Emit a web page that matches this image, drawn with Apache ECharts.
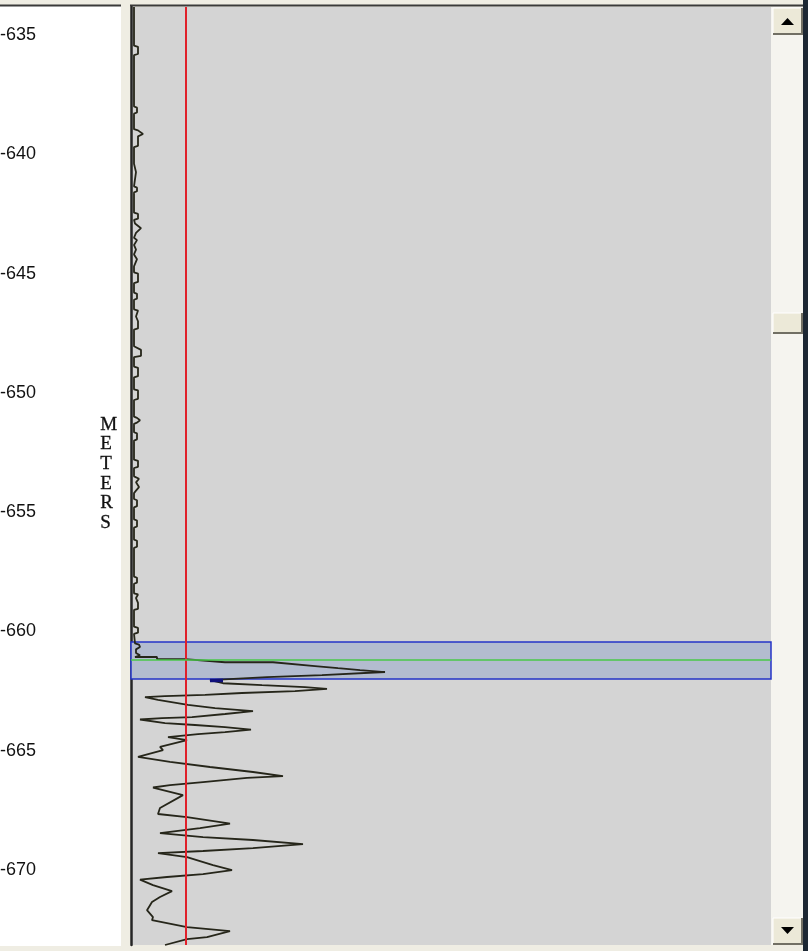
<!DOCTYPE html>
<html>
<head>
<meta charset="utf-8">
<script src="https://cdn.jsdelivr.net/npm/echarts@6/dist/echarts.min.js"></script>
<style>
  html, body { margin: 0; padding: 0; background: #efede3; }
  #chart { width: 808px; height: 951px; }
</style>
</head>
<body>
<div id="chart"></div>
<script>
// depth tick labels (meters)
const depthTicks = [-635, -640, -645, -650, -655, -660, -665, -670];

// log trace: value along x, depth along y
const traceValue = [
  0.75, 0.75, 1.25, 0.75, 0.75, 1.75, 1.75, 0.75, 0.75, 1.25, 0.75,
  0.75, 1.5, 1.5, 0.75, 0.75, 1.75, 3, 1.75, 1.75, 0.75,
  0.75, 1.25, 1.25, 0.75, 0.75, 1.5, 1.5, 0.75, 0.75, 1.75, 1.75, 0.75,
  1.0, 2.5, 1.25, 0.75, 1.5, 0.75, 1.25, 0.75, 1.5, 0.75,
  0.75, 1.75, 1.75, 0.75, 0.75, 1.5, 1.5, 0.75,
  0.75, 1.75, 1.25, 1.75, 1.75, 0.75, 0.75, 2.5, 2.5, 0.75,
  0.75, 1.75, 1.75, 0.75, 0.75, 1.75, 1.75, 0.75,
  0.75, 1.5, 2.25, 1.5, 0.75, 0.75, 1.5, 1.5, 0.75,
  0.75, 1.75, 1.75, 0.75, 0.75, 2.0, 1.25, 2.0, 1.25, 0.75,
  0.75, 1.5, 1.5, 0.75, 0.75, 1.5, 1.5, 0.75, 0.75, 1.5, 1.5, 0.75,
  0.75, 1.5, 1.5, 0.75, 0.75, 1.75, 1.25, 1.75, 1.75, 0.75,
  0.75, 1.75, 1.75, 0.75,
  1.0, 2.0, 2.25, 1.25, 1.25, 2.25, 1.0,
  6.5, 6.5, 13.5, 23.5, 35.5, 35.5, 46, 51.75, 57.25, 63.5, 63.5,
  47.75, 34, 19.75, 23, 32.75, 43.5, 49, 41, 27.75, 18.5, 8.5, 3.5,
  6.75, 14.25, 21, 30.5, 30.5, 23.5, 15.25, 7.75, 2.25,
  8.5, 16, 23.5, 30, 23.5, 16.75, 9.25, 14, 7.25, 8, 1.75,
  9.75, 19.75, 30.5, 38, 29, 18, 9.75, 5.5, 13, 7.25, 6.75,
  14, 24, 24.75, 17.25, 7.25, 18, 30.5, 43, 30.5, 18, 6.75,
  14, 20.5, 25.25, 18, 9, 2.25, 5.5, 10.25, 7.25, 5.25, 4, 5.5, 5.25, 5.5,
  14, 24.75, 19, 14, 8.5
];
const traceDepth = [
  -633.83, -634.30, -634.35, -634.45, -635.45, -635.50, -635.80, -635.85, -636.85, -636.90, -637.00,
  -638.00, -638.05, -638.25, -638.30, -638.95, -639.00, -639.15, -639.25, -639.65, -639.70,
  -640.40, -640.45, -640.75, -640.80, -641.35, -641.40, -641.55, -641.60, -642.45, -642.50, -642.70, -642.75,
  -642.90, -643.10, -643.30, -643.50, -643.60, -643.80, -644.00, -644.20, -644.40, -644.70,
  -644.95, -645.00, -645.35, -645.40, -645.80, -645.85, -646.05, -646.10,
  -646.50, -646.55, -646.80, -647.00, -647.30, -647.35, -648.05, -648.20, -648.45, -648.50,
  -648.90, -648.95, -649.30, -649.35, -649.85, -649.90, -650.25, -650.30,
  -651.00, -651.05, -651.15, -651.25, -651.30, -651.65, -651.70, -651.95, -652.00,
  -652.80, -652.85, -653.10, -653.15, -653.50, -653.60, -653.75, -653.95, -654.10, -654.20,
  -654.45, -654.50, -654.75, -654.80, -655.30, -655.35, -655.60, -655.65, -656.15, -656.20, -656.45, -656.50,
  -657.70, -657.75, -657.95, -658.00, -658.40, -658.45, -658.60, -658.80, -659.05, -659.10,
  -659.80, -659.85, -660.05, -660.10,
  -660.50, -660.55, -660.65, -660.75, -660.90, -661.00, -661.07,
  -661.07, -661.16, -661.16, -661.29, -661.29, -661.37, -661.45, -661.54, -661.62, -661.70, -661.74,
  -661.83, -661.91, -662.04, -662.17, -662.25, -662.33, -662.41, -662.50, -662.58, -662.66, -662.71, -662.75,
  -662.87, -663.08, -663.21, -663.34, -663.38, -663.46, -663.59, -663.63, -663.69,
  -663.84, -663.92, -664.01, -664.11, -664.22, -664.30, -664.43, -664.55, -664.84, -664.97, -665.26,
  -665.47, -665.68, -665.89, -666.06, -666.14, -666.31, -666.44, -666.54, -666.86, -667.40, -667.65,
  -667.78, -668.03, -668.05, -668.24, -668.45, -668.62, -668.74, -668.91, -669.08, -669.20, -669.29,
  -669.46, -669.79, -670.00, -670.17, -670.29, -670.40, -670.63, -670.88, -671.13, -671.34, -671.68, -671.97, -672.10, -672.18,
  -672.39, -672.56, -672.81, -672.89, -673.14
];

// highlighted short piece of the trace (drawn dark blue)
const blueValue = [19.75, 23];
const blueDepth = [-662.06, -662.06];

// picks
const zoneTop = -660.44;
const zoneBottom = -661.99;
const pickDepth = -661.20;
const cutoffValue = 13.75;

const depthMin = -673.14;
const depthMax = -633.83;

const chart = echarts.init(document.getElementById('chart'));

const traceData = traceValue.map((v, i) => [v, traceDepth[i]]);
const blueData = blueValue.map((v, i) => [v, blueDepth[i]]);

const option = {
  backgroundColor: '#efede3',
  animation: false,
  grid: {
    left: 131, right: 37, top: 7, bottom: 6,
    outerBoundsMode: 'none',
    containLabel: false,
    show: true, backgroundColor: '#d4d4d4', borderWidth: 0
  },
  xAxis: { type: 'value', min: 0, max: 160, show: false },
  yAxis: {
    type: 'value',
    min: depthMin,
    max: depthMax,
    axisLine: { show: true, lineStyle: { color: '#262626', width: 2.5 } },
    axisTick: { show: false },
    splitLine: { show: false },
    axisLabel: {
      customValues: depthTicks,
      align: 'left',
      margin: 131,
      fontSize: 18,
      fontFamily: 'Liberation Sans',
      color: '#111'
    }
  },
  graphic: [
    { type: 'rect', shape: { x: 0, y: 6, width: 121, height: 940 }, style: { fill: '#ffffff' } },
    { type: 'line', shape: { x1: 0, y1: 5.5, x2: 121, y2: 5.5 }, style: { stroke: '#3a3a3a', lineWidth: 2 } },
    { type: 'line', shape: { x1: 130, y1: 5.5, x2: 803, y2: 5.5 }, style: { stroke: '#3a3a3a', lineWidth: 2 } },
    { type: 'rect', shape: { x: 771, y: 7, width: 32, height: 938 }, style: { fill: '#f5f4ef' } },
    // scroll up button
    { type: 'rect', shape: { x: 773, y: 8, width: 29, height: 26 }, style: { fill: '#ece9d8', stroke: '#ffffff', lineWidth: 1 } },
    { type: 'polyline', shape: { points: [[773, 34], [802, 34], [802, 8]] }, style: { stroke: '#716f64', lineWidth: 2, fill: null } },
    { type: 'polygon', shape: { points: [[781, 25], [794, 25], [787.5, 18]] }, style: { fill: '#000' } },
    // thumb
    { type: 'rect', shape: { x: 773, y: 313, width: 29, height: 20 }, style: { fill: '#ece9d8', stroke: '#ffffff', lineWidth: 1 } },
    { type: 'polyline', shape: { points: [[773, 333], [802, 333], [802, 313]] }, style: { stroke: '#716f64', lineWidth: 2, fill: null } },
    // scroll down button
    { type: 'rect', shape: { x: 773, y: 918, width: 29, height: 26 }, style: { fill: '#ece9d8', stroke: '#ffffff', lineWidth: 1 } },
    { type: 'polyline', shape: { points: [[773, 944], [802, 944], [802, 918]] }, style: { stroke: '#716f64', lineWidth: 2, fill: null } },
    { type: 'polygon', shape: { points: [[781, 927], [794, 927], [787.5, 934]] }, style: { fill: '#000' } },
    { type: 'rect', shape: { x: 803, y: 0, width: 5, height: 951 }, style: { fill: '#1c2733' } },
    {
      type: 'text', left: 100, top: 415,
      style: {
        text: 'M\nE\nT\nE\nR\nS',
        font: '19px "Liberation Serif"',
        fill: '#111',
        stroke: '#111',
        lineWidth: 0.3,
        lineHeight: 19.6,
        align: 'center',
        width: 17
      }
    }
  ],
  series: [
    {
      type: 'line', data: [], z: 1, silent: true,
      markArea: {
        silent: true,
        itemStyle: { color: '#b3bccf', borderColor: '#2433c8', borderWidth: 1.5 },
        data: [[{ yAxis: zoneTop }, { yAxis: zoneBottom }]]
      }
    },
    {
      type: 'line', data: traceData, z: 2,
      showSymbol: false, smooth: false,
      lineStyle: { color: '#26261a', width: 1.8 }
    },
    {
      type: 'line', data: blueData, z: 3,
      showSymbol: false,
      lineStyle: { color: '#10107a', width: 3.5 }
    },
    {
      type: 'line', data: [], z: 4, silent: true,
      markLine: {
        silent: true, symbol: 'none', label: { show: false },
        data: [
          { xAxis: cutoffValue, lineStyle: { color: '#e0202a', width: 2, type: 'solid' } },
          { yAxis: pickDepth, lineStyle: { color: '#48c848', width: 1.5, type: 'solid' } }
        ]
      }
    }
  ]
};

chart.setOption(option);
</script>
</body>
</html>
